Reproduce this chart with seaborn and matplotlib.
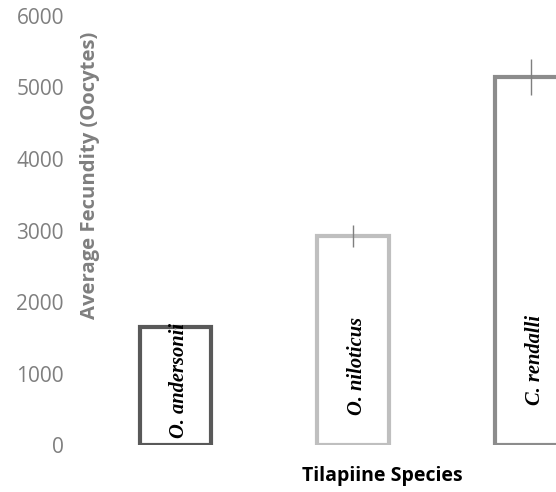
import matplotlib
matplotlib.use("Agg")
import matplotlib.pyplot as plt
import seaborn as sns

# data
species = ["O. andersonii", "O. niloticus", "C. rendalli"]
mean_fecundity = [1650, 2920, 5150]
fecundity_err = [30, 150, 250]
y_ticks = [0, 1000, 2000, 3000, 4000, 5000, 6000]

bar_colors = ["#595959", "#bfbfbf", "#8c8c8c"]

sns.set_style("white")
plt.rcParams["font.family"] = ["Open Sans", "DejaVu Sans"]

fig = plt.figure(figsize=(5.56, 4.92), dpi=100)
ax = fig.add_axes([0.155, 0.0955, 0.96, 0.872])

sns.barplot(x=species, y=mean_fecundity, hue=species, palette=bar_colors,
            fill=False, linewidth=3, width=0.4, legend=False, ax=ax)

ax.errorbar(x=range(len(species)), y=mean_fecundity, yerr=fecundity_err,
            fmt="none", ecolor="#7f7f7f", elinewidth=1, capsize=0, zorder=5)

# species names written inside the bars
label_base = [95, 420, 560]
for i, name in enumerate(species):
    ax.text(i + 0.02, label_base[i], name, rotation=90, ha="center", va="bottom",
            family="Liberation Serif", fontweight="bold", fontstyle="italic",
            fontsize=14.8, color="black", zorder=6)

ax.set_xlim(-0.5, 2.5)
ax.set_ylim(0, 6000)
ax.set_yticks(y_ticks)
ax.set_xticks([])
ax.tick_params(axis="y", length=0, pad=16, labelsize=15, labelcolor="#7f7f7f")
for s in ax.spines.values():
    s.set_visible(False)

ax.set_ylabel("Average Fecundity (Oocytes)", fontsize=14.6, fontweight="bold",
              color="#7f7f7f")
ax.yaxis.set_label_coords(0.026, 0.629)
ax.set_xlabel("Tilapiine Species", fontsize=14, fontweight="bold", color="black")
ax.xaxis.set_label_coords(0.554, -0.05)

fig.savefig("out.png", dpi=100)
